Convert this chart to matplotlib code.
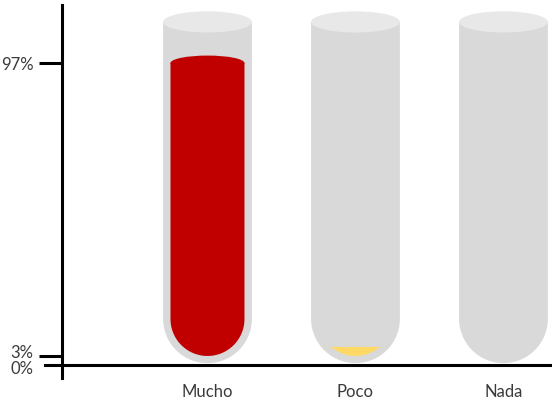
import matplotlib
matplotlib.use('Agg')
import matplotlib.pyplot as plt
import matplotlib.transforms as mtransforms
import numpy as np
from matplotlib.patches import Polygon, Ellipse

plt.rcParams['font.family'] = ['Lato', 'DejaVu Sans']

# Data
categories = ['Mucho', 'Poco', 'Nada']
values = [97, 3, 0]
liquid_colors = ['#c00000', '#ffd966', '#ffd966']
tick_vals = [0, 3, 97]
tick_labels = ['0%', '3%', '97%']

# Tube geometry (data units)
tube_hw = 0.30        # outer half width
tube_top = 110.2      # centre of the top opening
tube_bottom = 0.6     # lowest point of outer tube
rim_hh = 3.4          # half height of top opening ellipse
inner_hw = 0.25
inner_bottom = 2.9
liquid_hh = 2.4
px_x, px_y = 148.0, 3.113   # pixels per data unit (to keep round bottoms round)

fig = plt.figure(figsize=(5.52, 4.05), dpi=100)
ax = fig.add_axes([0, 0, 1, 1])
ax.set_xlim(-1.402, 2.328)
ax.set_ylim(-12.85, 117.25)


def u_shape(xc, hw, bottom, top, n=80):
    # rectangle with a round (half ellipse) bottom
    ry = hw * px_x / px_y
    yc = bottom + ry
    t = np.linspace(np.pi, 2 * np.pi, n)
    xs = xc + hw * np.cos(t)
    ys = yc + ry * np.sin(t)
    xs = np.concatenate([[xc - hw], xs, [xc + hw]])
    ys = np.concatenate([[top], ys, [top]])
    return xs, ys, yc


vmax = max(values)
for i, (v, c) in enumerate(zip(values, liquid_colors)):
    # glass tube
    xs, ys, _ = u_shape(i, tube_hw, tube_bottom, tube_top)
    ax.add_patch(Polygon(np.column_stack([xs, ys]), closed=True,
                         facecolor='#d9d9d9', edgecolor='none', zorder=2))
    ax.add_patch(Ellipse((i, tube_top), 2 * tube_hw, 2 * rim_hh,
                         facecolor='#e8e8e8', edgecolor='none', zorder=3))

    # liquid
    if v <= 0:
        continue
    level = inner_bottom + v / vmax * (vmax - inner_bottom)
    xs, ys, yc = u_shape(i, inner_hw, inner_bottom, level, n=200)
    keep = ys <= level
    pts = np.column_stack([xs[keep], ys[keep]])
    ax.add_patch(Polygon(pts, closed=True, facecolor=c, edgecolor='none', zorder=4))
    if level > yc:
        ax.add_patch(Ellipse((i, level), 2 * inner_hw, 2 * liquid_hh,
                             facecolor=c, edgecolor='none', zorder=4))

# Axes styling
for s in ['top', 'right']:
    ax.spines[s].set_visible(False)
ax.spines['left'].set_position(('data', -0.983))
ax.spines['bottom'].set_position(('data', 0))
ax.spines['left'].set_bounds(-4.2, 115.6)
ax.spines['bottom'].set_bounds(-1.098, 2.328)
for s in ['left', 'bottom']:
    ax.spines[s].set_linewidth(2.2)
    ax.spines[s].set_color('black')
    ax.spines[s].set_zorder(5)

ax.set_yticks(tick_vals, tick_labels)
ax.set_xticks(range(len(categories)), categories)
ax.tick_params(axis='y', direction='out', length=16.5, width=2.2, pad=4,
               labelsize=12, labelcolor='#3a3a3a')
ax.tick_params(axis='x', length=0, pad=14, labelsize=12, labelcolor='#3a3a3a')
ax.yaxis.get_major_ticks()[0].tick1line.set_visible(False)

# keep the 0% and 3% labels from running into each other
ylabels = ax.get_yticklabels()
for lab, dy in zip(ylabels[:2], [-3.0, 4.5]):
    lab.set_transform(lab.get_transform() +
                      mtransforms.ScaledTranslation(0, dy / 100, fig.dpi_scale_trans))

fig.savefig('out.png', dpi=100)
